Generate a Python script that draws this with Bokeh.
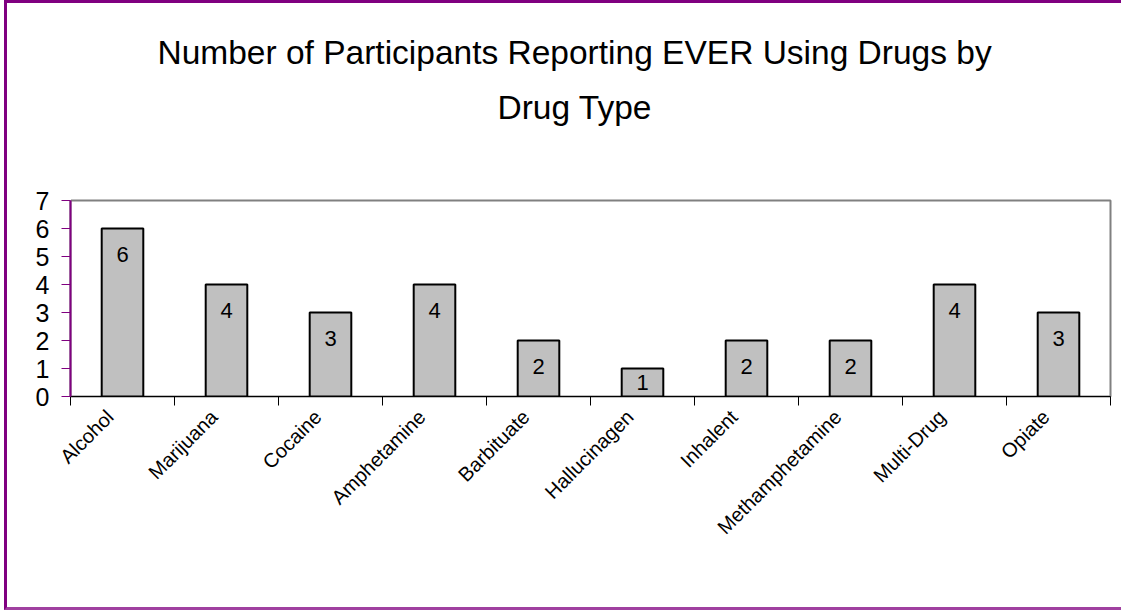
import math
from bokeh.plotting import figure
from bokeh.models import Range1d, FixedTicker, ColumnDataSource, Title, LinearAxis
from bokeh.core.properties import value
from bokeh.embed import file_html
from bokeh.resources import INLINE

categories = ["Alcohol", "Marijuana", "Cocaine", "Amphetamine", "Barbituate",
              "Hallucinagen", "Inhalent", "Methamphetamine", "Multi-Drug", "Opiate"]
counts = [6, 4, 3, 4, 2, 1, 2, 2, 4, 3]
y_ticks = [0, 1, 2, 3, 4, 5, 6, 7]
title_lines = ["Number of Participants Reporting EVER Using Drugs by", "Drug Type"]

FONT = "Liberation Sans"
PURPLE = "#800080"

xs = [i + 0.5 for i in range(len(categories))]
label_ticks = [x - 0.12 for x in xs]
label_y = [max(v - 0.93, v / 2) for v in counts]
src = ColumnDataSource(dict(x=xs, top=counts, ly=label_y, txt=[str(v) for v in counts]))

p = figure(frame_width=1040, frame_height=196,
           x_range=Range1d(0, len(categories)), y_range=Range1d(0, 7),
           output_backend="svg", toolbar_location=None,
           min_border_left=63, min_border_right=11,
           min_border_top=197, min_border_bottom=211)
p.title_location = None

xa = p.below[0]
ya = p.left[0]

# invisible spacer between the frame and the two title lines
spacer = LinearAxis(ticker=FixedTicker(ticks=[0], minor_ticks=[]), major_tick_out=75,
                    major_tick_in=0, minor_tick_out=0, minor_tick_in=0,
                    axis_line_color=None, major_tick_line_color="white",
                    major_tick_line_width=1, minor_tick_line_color=None,
                    major_label_standoff=0, major_label_text_font_size="1px",
                    major_label_text_alpha=0, major_label_overrides={0: ""})
p.add_layout(spacer, "above")

t2 = Title(text=title_lines[1], align="left", text_font=FONT, text_font_size="33.5px",
           text_font_style="normal", text_color="black", offset=427, standoff=0)
t1 = Title(text=title_lines[0], align="left", text_font=FONT, text_font_size="33.5px",
           text_font_style="normal", text_color="black", offset=87, standoff=32)
p.add_layout(t2, "above")
p.add_layout(t1, "above")

p.xgrid.visible = False
p.ygrid.visible = False
p.outline_line_color = "#808080"
p.outline_line_width = 2
p.background_fill_color = "white"
p.border_fill_color = "white"

p.vbar(x="x", top="top", width=0.4, source=src,
       fill_color="#C0C0C0", line_color="black", line_width=2)
p.text(x="x", y="ly", text="txt", source=src, text_align="center",
       text_baseline="middle", text_font=value(FONT), text_font_size="22px",
       text_color="black")

xa.ticker = FixedTicker(ticks=label_ticks, minor_ticks=list(range(len(categories) + 1)))
xa.major_label_overrides = {x: c for x, c in zip(label_ticks, categories)}
xa.major_tick_out = 0
xa.major_tick_in = 0
xa.minor_tick_out = 9
xa.minor_tick_in = 0
xa.minor_tick_line_color = "black"
xa.axis_line_color = "black"
xa.axis_line_width = 1
xa.major_label_orientation = math.pi / 4
xa.major_label_text_font = FONT
xa.major_label_text_font_size = "20px"
xa.major_label_text_color = "black"
xa.major_label_standoff = 8

ya.ticker = FixedTicker(ticks=y_ticks)
ya.major_tick_out = 9
ya.major_tick_in = 0
ya.major_tick_line_color = PURPLE
ya.minor_tick_line_color = None
ya.axis_line_color = PURPLE
ya.axis_line_width = 2
ya.major_label_text_font = FONT
ya.major_label_text_font_size = "25px"
ya.major_label_text_color = "black"
ya.major_label_standoff = 12

p.styles = {"margin-left": "4px",
            "border-left": "3px solid " + PURPLE,
            "border-top": "3px solid " + PURPLE,
            "border-bottom": "3px solid #A040A0"}

open("out.html", "w").write(file_html(p, INLINE))
